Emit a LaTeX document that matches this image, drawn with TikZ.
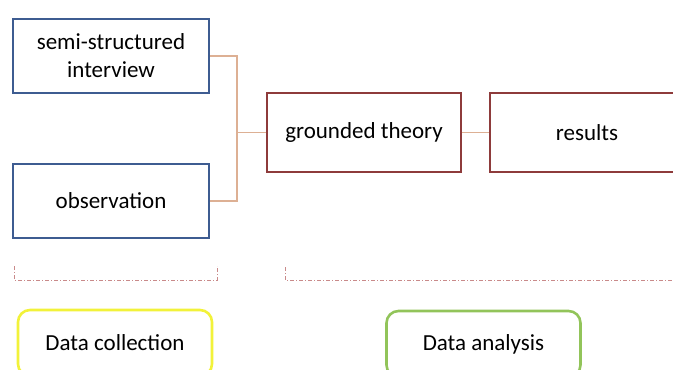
\documentclass[tikz,border=0pt]{standalone}
\usepackage{fontspec}
\setmainfont{Carlito}
\begin{document}
\begin{tikzpicture}[x=1pt,y=-1pt,
  font=\fontsize{23}{28}\selectfont,
  bluebox/.style={draw=blueb,line width=2pt,rectangle,minimum width=196pt,minimum height=74pt,align=center,inner sep=0pt},
  redbox/.style={draw=redb,line width=2.2pt,rectangle,minimum height=79pt,align=center,inner sep=0pt},
  link/.style={draw=tan,line width=1.1pt},
  brack/.style={draw=pinkd,line width=0.9pt,dash pattern=on 4pt off 2pt on 1pt off 2pt},
  phase/.style={rounded corners=12pt,line width=2.6pt,minimum width=194pt,minimum height=66pt,inner sep=0pt}]
\definecolor{blueb}{HTML}{3E5C91}
\definecolor{redb}{HTML}{8E3B3B}
\definecolor{tan}{HTML}{DDB094}
\definecolor{pinkd}{HTML}{C98A8A}
\definecolor{yel}{HTML}{F2F23A}
\definecolor{grn}{HTML}{92C45A}
\useasboundingbox (0,0) rectangle (673,370);
\clip (0,0) rectangle (673,370);
\node[bluebox] (semi) at (111,56) {semi-structured\\interview};
\node[bluebox] (obs) at (111,201) {observation};
\node[redbox,minimum width=194pt] (gt) at (364,132.5) {grounded theory};
\node[redbox,minimum width=200pt] (res) at (590,132.5) {\hspace*{-6pt}results};
\coordinate (j) at (237,132.5);
\draw[link] (semi.east) -| (j);
\draw[link] (obs.east) -| (j);
\draw[link] (j) -- (gt.west);
\draw[link] (gt.east) -- (res.west);
\coordinate (b1) at (14,266);
\coordinate (b2) at (217,266);
\coordinate (b3) at (285,267);
\coordinate (b4) at (690,280);
\draw[brack] (b1) -- ++(0,14) -| (b2);
\draw[brack] (b3) |- (b4);
\node[phase,draw=yel] (dc) at (115,343) {Data collection};
\node[phase,draw=grn] (da) at (483.5,344) {Data analysis};
\end{tikzpicture}
\end{document}
